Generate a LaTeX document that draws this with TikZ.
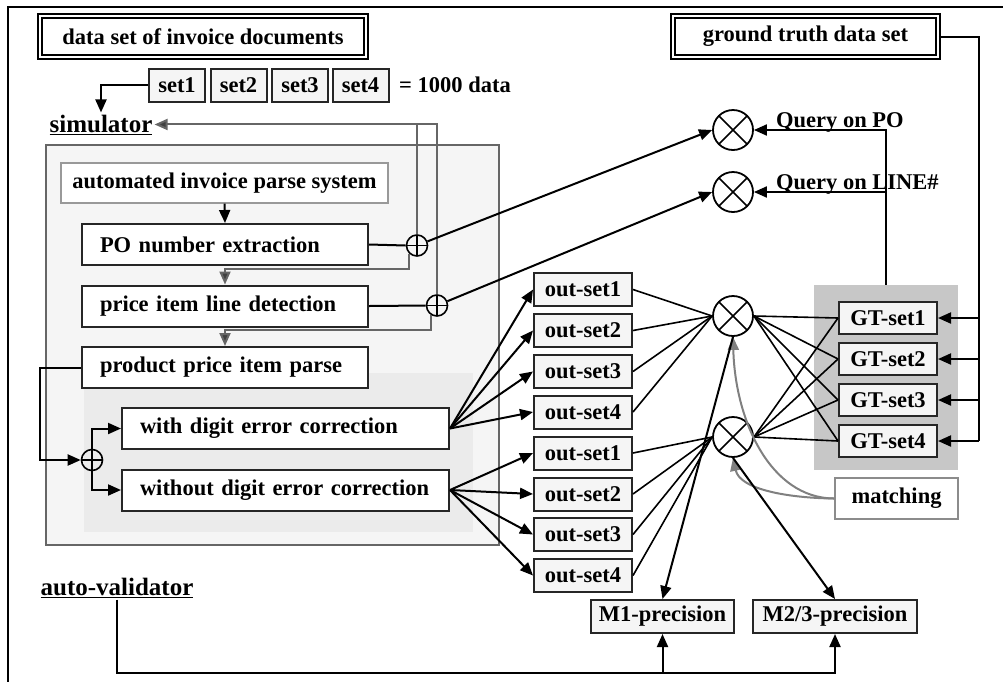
\documentclass[tikz,border=0pt]{standalone}
\usepackage{fontspec}
\setmainfont{Liberation Serif}
\usetikzlibrary{arrows.meta,calc}
\begin{document}
\begin{tikzpicture}[x=1pt,y=-1pt,
  lbl/.style={font=\bfseries\fontsize{22.5}{24}\selectfont},
  biglbl/.style={font=\bfseries\fontsize{25}{28}\selectfont,inner sep=2pt},
  box/.style={lbl,draw=black!85,line width=2pt,fill=black!4,inner sep=0pt,minimum height=33pt},
  wbox/.style={lbl,draw=black!85,line width=2pt,fill=white,minimum height=41pt,inner xsep=18pt,inner ysep=0pt,align=left},
  ttl/.style={lbl,draw,double,double distance=2.5pt,line width=1.8pt,inner sep=0pt,minimum height=41pt},
  oplus/.style={circle,draw,line width=1.6pt,minimum size=21pt,inner sep=0pt,
    path picture={\draw[line width=1.3pt] (path picture bounding box.north) -- (path picture bounding box.south)
      (path picture bounding box.west) -- (path picture bounding box.east);}},
  otimes/.style={circle,draw,line width=1.8pt,fill=white,minimum size=40pt,inner sep=0pt,
    path picture={\draw[line width=1.6pt] (path picture bounding box.north west) -- (path picture bounding box.south east)
      (path picture bounding box.north east) -- (path picture bounding box.south west);}},
  line/.style={line width=2pt},
  thinl/.style={line width=1.6pt},
  arr/.style={line width=2pt,-{Triangle[length=13pt,width=11pt]}},
  garr/.style={draw=black!60,line width=2pt,-{Triangle[length=13pt,width=11pt,fill=black!75]}},
  gline/.style={draw=black!60,line width=2pt},
  curv/.style={draw=black!50,line width=2pt,-{Triangle[length=13pt,width=11pt]}},
]
\useasboundingbox (0,0) rectangle (1003,681);
% frame
\draw[line width=1.6pt] (8,690) -- (8,7) -- (1010,7);

% containers
\node[draw=black!60,line width=1.8pt,fill=black!4,minimum width=453pt,minimum height=400pt,inner sep=0pt] (simbox) at (272.5,345) {};
\node[fill=black!8,minimum width=389pt,minimum height=159pt,inner sep=0pt] (inner) at (278.5,452.5) {};
\node[fill=black!22,minimum width=144pt,minimum height=185pt,inner sep=0pt] (gtbg) at (886,377.5) {};

% titles
\node[ttl,minimum width=326pt] (ds) at (203,36.5) {data set of invoice documents};
\node[ttl,minimum width=265pt] (gt) at (805.5,36.5) {ground truth data set};

% sets
\node[box,minimum width=56pt] (s1) at (177,85) {set1};
\node[box,minimum width=56pt] (s2) at (238.5,85) {set2};
\node[box,minimum width=56pt] (s3) at (300,85) {set3};
\node[box,minimum width=56pt] (s4) at (360.5,85) {set4};
\node[lbl,inner sep=0pt] (eq) at (455,85) {= 1000 data};

% labels
\node[biglbl,anchor=base] (sim) at (101,132) {\underline{simulator}};
\node[biglbl,anchor=base] (av) at (117,595) {\underline{auto-validator}};

% simulator chain
\node[lbl,draw=black!40,line width=1.4pt,fill=white,minimum width=327pt,minimum height=40pt,inner sep=0pt] (aips) at (224.5,183) {automated invoice parse system};
\node[wbox,text width=250pt] (po) at (225,244.5) {PO number extraction};
\node[wbox,text width=250pt] (pr) at (225,306) {price item line detection};
\node[wbox,text width=250pt] (pp) at (225,367.5) {product price item parse};
\node[wbox,text width=291pt] (wc) at (285.5,428.5) {with digit error correction};
\node[wbox,text width=291pt] (wo) at (285.5,490) {without digit error correction};

\node[oplus] (p1) at (417,245.5) {};
\node[oplus] (p2) at (437,305.5) {};
\node[oplus] (p3) at (92,460) {};

% query
\node[otimes] (q1) at (733,130) {};
\node[otimes] (q2) at (733,192) {};
\node[lbl,anchor=base west,inner sep=0pt] (qpo) at (776,127) {Query on PO};
\node[lbl,anchor=base west,inner sep=0pt] (qln) at (776,189) {Query on LINE\#};

% out sets
\foreach \n/\y/\t in {ua/289.5/out-set1,ub/330.5/out-set2,uc/371.5/out-set3,ud/412/out-set4,
                      la/453/out-set1,lb/494/out-set2,lc/534.5/out-set3,ld/575.5/out-set4}
  \node[box,minimum width=98pt] (\n) at (583,\y) {\t};

\node[otimes] (m1) at (733,316) {};
\node[otimes] (m2) at (733,437) {};

% GT sets
\foreach \n/\y/\t in {g1/318/GT-set1,g2/359/GT-set2,g3/400/GT-set3,g4/441/GT-set4}
  \node[box,minimum width=98pt,minimum height=32pt] (\n) at (888,\y) {\t};

\node[box,draw=black!45,fill=white,minimum width=123pt,minimum height=41pt] (match) at (896.5,498.5) {matching};

\node[box,minimum width=143pt] (M1) at (662.5,616.5) {M1-precision};
\node[box,minimum width=164pt] (M23) at (835,616.5) {M2/3-precision};

% ---------- connectors ----------
\draw[arr] (s1.west) -| (sim.north);
\draw[arr] (aips.south) -- (po.north);

\draw[line] (po.east) -- (p1.west);
\draw[line] (pr.east) -- (p2.west);

\draw[gline] (p1.north) -- (p1.north |- sim.east);
\draw[garr] (p2.north) |- (sim.east);
\draw[garr] (p1.228) |- ($(pr.north)+(0,-16)$) -- (pr.north);
\draw[garr] (p2.235) |- ($(pp.north)+(0,-16)$) -- (pp.north);

\draw[arr] (p1) -- (q1.west);
\draw[arr] (p2) -- (q2.west);

\draw[arr] (pp.west) -- ++(-41,0) |- (p3.west);
\draw[arr] (p3.north) |- (wc.west);
\draw[arr] (p3.south) |- (wo.west);

\foreach \n in {ua,ub,uc,ud} {
  \draw[arr] (wc.east) -- (\n.west);
  \draw[thinl] (\n.east) -- (m1.west);
}
\foreach \n in {la,lb,lc,ld} {
  \draw[arr] (wo.east) -- (\n.west);
  \draw[thinl] (\n.east) -- (m2.west);
}
\foreach \n in {g1,g2,g3,g4} {
  \draw[thinl] (m1.east) -- (\n.west);
  \draw[thinl] (m2.east) -- (\n.west);
}

\draw[arr] (gtbg.north) |- (q1.east);
\draw[arr] (gtbg.north |- q2.east) -- (q2.east);

\coordinate (gtr) at (979,441);
\draw[line] (gt.east) -| (gtr);
\foreach \n in {g1,g2,g3} \draw[arr] (gtr |- \n.east) -- (\n.east);
\draw[arr] (gtr) -- (g4.east);

\draw[curv] (match.west) .. controls (770,498) and (735,420) .. (m1.south);
\draw[curv] (match.west) .. controls (790,498) and (740,490) .. (m2.south);

\draw[arr] (m1.south) -- (M1.north);
\draw[arr] (m2.south) -- (M23.north);

\coordinate (avb) at (117,673);
\draw[arr] (av.south) -- (avb) -| (M23.south);
\draw[arr] (M1.south |- avb) -- (M1.south);
\end{tikzpicture}
\end{document}
